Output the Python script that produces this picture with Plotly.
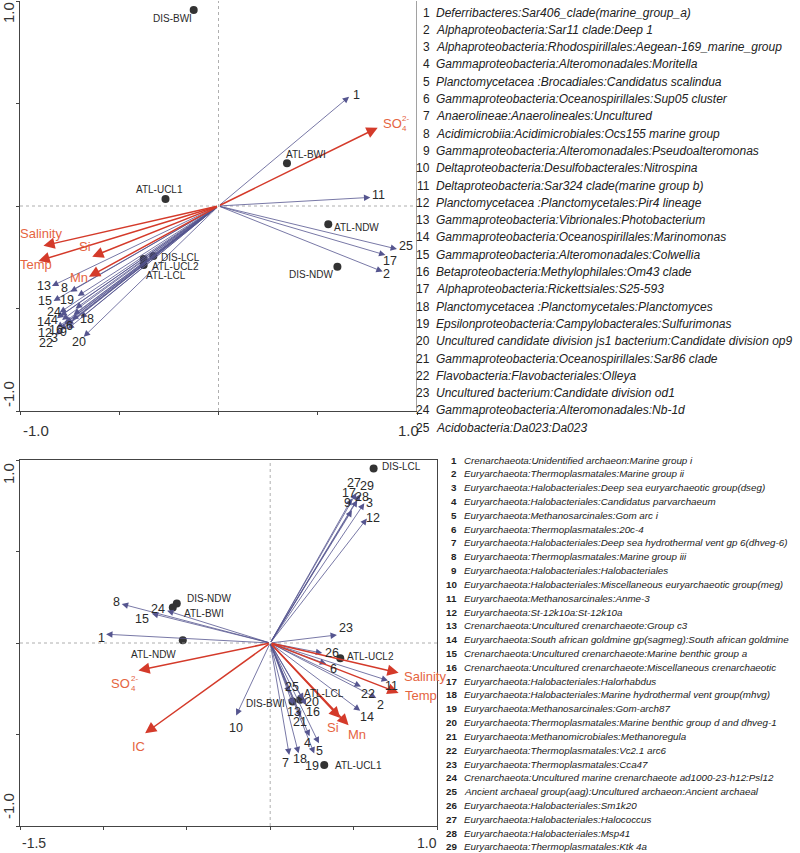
import plotly.graph_objects as go

# ---------------- DATA ----------------
# Top panel (Bacteria)
top_species_ids = list(range(1, 26))
top_species_x = [0.658, 0.827, -0.797, -0.788, -0.77, -0.738, -0.80, -0.746, -0.763, -0.72,
                 0.765, -0.814, -0.839, -0.814, -0.831, -0.78, 0.841, -0.695, -0.709, -0.679,
                 -0.76, -0.822, -0.73, -0.797, 0.899]
top_species_y = [0.533, -0.32, -0.605, -0.556, -0.57, -0.556, -0.52, -0.418, -0.58, -0.50,
                 0.042, -0.595, -0.39, -0.547, -0.463, -0.58, -0.239, -0.547, -0.439, -0.638,
                 -0.60, -0.629, -0.53, -0.537, -0.21]
top_species_shown = [True, True, True, True, False, True, False, True, True, False,
                     True, True, True, True, True, True, True, True, True, True,
                     False, True, False, True, True]

top_env_names = ["SO", "Salinity", "Temp", "Si", "Mn"]
top_env_x = [0.802, -0.882, -0.907, -0.636, -0.653]
top_env_y = [0.382, -0.194, -0.268, -0.247, -0.345]

top_sites = ["DIS-BWI", "ATL-BWI", "ATL-UCL1", "ATL-NDW", "DIS-NDW", "DIS-LCL", "ATL-UCL2", "ATL-LCL"]
top_sites_x = [-0.125, 0.345, -0.267, 0.553, 0.599, -0.328, -0.377, -0.377]
top_sites_y = [0.956, 0.208, 0.034, -0.089, -0.296, -0.244, -0.259, -0.288]

top_taxa = [
    "Deferribacteres:Sar406_clade(marine_group_a)",
    "Alphaproteobacteria:Sar11 clade:Deep 1",
    "Alphaproteobacteria:Rhodospirillales:Aegean-169_marine_group",
    "Gammaproteobacteria:Alteromonadales:Moritella",
    "Planctomycetacea :Brocadiales:Candidatus scalindua",
    "Gammaproteobacteria:Oceanospirillales:Sup05 cluster",
    "Anaerolineae:Anaerolineales:Uncultured",
    "Acidimicrobiia:Acidimicrobiales:Ocs155 marine group",
    "Gammaproteobacteria:Alteromonadales:Pseudoalteromonas",
    "Deltaproteobacteria:Desulfobacterales:Nitrospina",
    "Deltaproteobacteria:Sar324 clade(marine group b)",
    "Planctomycetacea :Planctomycetales:Pir4 lineage",
    "Gammaproteobacteria:Vibrionales:Photobacterium",
    "Gammaproteobacteria:Oceanospirillales:Marinomonas",
    "Gammaproteobacteria:Alteromonadales:Colwellia",
    "Betaproteobacteria:Methylophilales:Om43 clade",
    "Alphaproteobacteria:Rickettsiales:S25-593",
    "Planctomycetacea :Planctomycetales:Planctomyces",
    "Epsilonproteobacteria:Campylobacterales:Sulfurimonas",
    "Uncultured candidate division js1 bacterium:Candidate division op9",
    "Gammaproteobacteria:Oceanospirillales:Sar86 clade",
    "Flavobacteria:Flavobacteriales:Olleya",
    "Uncultured bacterium:Candidate division od1",
    "Gammaproteobacteria:Alteromonadales:Nb-1d",
    "Acidobacteria:Da023:Da023",
]

# Bottom panel (Archaea)
bot_species_ids = list(range(1, 30))
bot_species_x = [-0.984, 0.636, 0.564, 0.236, 0.292, 0.336, 0.114, -0.89, 0.49, -0.204,
                 0.706, 0.58, 0.136, 0.54, -0.71, 0.216, 0.49, 0.17, 0.264, 0.2,
                 0.184, 0.544, 0.40, -0.618, 0.116, 0.312, 0.516, 0.522, 0.54]
bot_species_y = [0.048, -0.30, 0.764, -0.51, -0.548, -0.115, -0.612, 0.213, 0.725, -0.396,
                 -0.205, 0.68, -0.337, -0.37, 0.161, -0.34, 0.79, -0.603, -0.604, -0.31,
                 -0.406, -0.238, 0.044, 0.176, -0.273, -0.055, 0.819, 0.78, 0.813]

bot_env_names = ["Salinity", "Temp", "Si", "Mn", "SO", "IC"]
bot_env_x = [0.77, 0.77, 0.42, 0.47, -0.79, -0.75]
bot_env_y = [-0.163, -0.273, -0.41, -0.45, -0.15, -0.493]

bot_sites = ["DIS-LCL", "DIS-NDW", "ATL-BWI", "ATL-NDW", "ATL-UCL2", "DIS-BWI", "ATL-LCL", "ATL-UCL1"]
bot_sites_x = [0.62, -0.56, -0.584, -0.524, 0.42, 0.134, 0.18, 0.324]
bot_sites_y = [0.954, 0.216, 0.194, 0.015, -0.084, -0.319, -0.31, -0.667]

bot_taxa = [
    "Crenarchaeota:Unidentified archaeon:Marine group i",
    "Euryarchaeota:Thermoplasmatales:Marine group ii",
    "Euryarchaeota:Halobacteriales:Deep sea euryarchaeotic group(dseg)",
    "Euryarchaeota:Halobacteriales:Candidatus parvarchaeum",
    "Euryarchaeota:Methanosarcinales:Gom arc i",
    "Euryarchaeota:Thermoplasmatales:20c-4",
    "Euryarchaeota:Halobacteriales:Deep sea hydrothermal vent gp 6(dhveg-6)",
    "Euryarchaeota:Thermoplasmatales:Marine group iii",
    "Euryarchaeota:Halobacteriales:Halobacteriales",
    "Euryarchaeota:Halobacteriales:Miscellaneous euryarchaeotic group(meg)",
    "Euryarchaeota:Methanosarcinales:Anme-3",
    "Euryarchaeota:St-12k10a:St-12k10a",
    "Crenarchaeota:Uncultured crenarchaeote:Group c3",
    "Euryarchaeota:South african goldmine gp(sagmeg):South african goldmine",
    "Crenarchaeota:Uncultured crenarchaeote:Marine benthic group a",
    "Crenarchaeota:Uncultured crenarchaeote:Miscellaneous crenarchaeotic",
    "Euryarchaeota:Halobacteriales:Halorhabdus",
    "Euryarchaeota:Halobacteriales:Marine hydrothermal vent group(mhvg)",
    "Euryarchaeota:Methanosarcinales:Gom-arch87",
    "Euryarchaeota:Thermoplasmatales:Marine benthic group d and dhveg-1",
    "Euryarchaeota:Methanomicrobiales:Methanoregula",
    "Euryarchaeota:Thermoplasmatales:Vc2.1 arc6",
    "Euryarchaeota:Thermoplasmatales:Cca47",
    "Crenarchaeota:Uncultured marine crenarchaeote ad1000-23-h12:Psl12",
    "Ancient archaeal group(aag):Uncultured archaeon:Ancient archaeal",
    "Euryarchaeota:Halobacteriales:Sm1k20",
    "Euryarchaeota:Halobacteriales:Halococcus",
    "Euryarchaeota:Halobacteriales:Msp41",
    "Euryarchaeota:Thermoplasmatales:Ktk 4a",
]

# ---------------- STYLE (label offsets in pixels: dx, dy-down) ----------------
top_species_off = [(7, -2), (4, 2), (-6, 8), (-8, 0), (0, 0), (-3, 6), (0, 0), (-6, -4), (-4, 7), (0, 0),
                   (8, -2), (-12, 5), (-8, 0), (-13, 4), (-9, 0), (-8, 5), (5, 6), (6, 1), (-11, 4), (-5, 5),
                   (0, 0), (-9, 8), (0, 0), (-6, -4), (9, -3)]
top_env_off = [("left", 3, -4), ("center", -2, -12), ("center", -2, 4), ("center", -7, -10), ("center", -10, 1)]
top_site_off = [("right", 0, 8), ("left", -3, -9), ("center", -6, -10), ("left", 4, 3),
                ("right", -2, 8), ("left", 6, 1), ("left", 6, 7), ("left", 0, 10)]

bot_species_off = [(-5, 4), (4, 7), (5, 0), (-2, 7), (1, 8), (7, 5), (-4, 8), (-5, -2), (-4, -7), (0, 13),
                   (4, 5), (6, -1), (1, 7), (7, 6), (-10, 5), (7, 7), (-3, -5), (1, 6), (-2, 12), (8, 2),
                   (-1, 5), (7, 7), (9, -7), (-9, -2), (2, -6), (10, 0), (-2, -10), (5, -3), (7, -8)]
bot_env_off = [("left", 3, 4), ("left", 4, 3), ("center", -7, 9), ("center", 8, 9), ("center", -18, 13), ("center", -7, 13)]
bot_site_off = [("left", 6, -2), ("left", 8, -5), ("left", 9, 6), ("right", -5, 14),
                ("left", 5, -2), ("right", -6, 2), ("left", 2, -6), ("left", 9, 0)]

W, H = 800, 853
SPEC_COL = "#55558f"
ENV_COL = "#d43a2a"
ENV_TXT = "#e5643f"
TXT = "#2a2a2a"
AX = "#444444"
FONT = "Arial, Liberation Sans, sans-serif"

def px_x(p):
    return p / W

def px_y(p):
    return 1 - p / H

fig = go.Figure()

# site points
fig.add_trace(go.Scatter(x=top_sites_x, y=top_sites_y, mode="markers", xaxis="x", yaxis="y",
                         marker=dict(size=8, color="#333333"), hoverinfo="skip", showlegend=False))
fig.add_trace(go.Scatter(x=bot_sites_x, y=bot_sites_y, mode="markers", xaxis="x2", yaxis="y2",
                         marker=dict(size=8, color="#333333"), hoverinfo="skip", showlegend=False))

anns = []

def arrow(x, y, xr, yr, color, width, size):
    anns.append(dict(x=x, y=y, ax=0, ay=0, xref=xr, yref=yr, axref=xr, ayref=yr,
                     showarrow=True, arrowhead=2, arrowsize=size, arrowwidth=width,
                     arrowcolor=color, text="", standoff=0, startstandoff=0))

def label(x, y, xr, yr, text, anchor, dx, dy, size, color):
    anns.append(dict(x=x, y=y, xref=xr, yref=yr, text=text, showarrow=False,
                     xanchor=anchor, yanchor="middle", xshift=dx, yshift=-dy,
                     font=dict(family=FONT, size=size, color=color)))

# zero lines (dotted)
shapes = [
    dict(type="line", xref="x", yref="y", x0=0, x1=0, y0=-1, y1=1, line=dict(color="#9a9a9a", width=0.8, dash="dot")),
    dict(type="line", xref="x", yref="y", x0=-1, x1=1, y0=0, y1=0, line=dict(color="#9a9a9a", width=0.8, dash="dot")),
    dict(type="line", xref="x2", yref="y2", x0=0, x1=0, y0=-1, y1=1, line=dict(color="#9a9a9a", width=0.8, dash="dot")),
    dict(type="line", xref="x2", yref="y2", x0=-1.5, x1=1.0, y0=0, y1=0, line=dict(color="#9a9a9a", width=0.8, dash="dot")),
    dict(type="line", xref="x", yref="y", x0=1, x1=1, y0=-1, y1=1.0, line=dict(color=AX, width=1)),
]

# ---- top panel arrows / labels ----
for i, (x, y) in enumerate(zip(top_species_x, top_species_y)):
    arrow(x, y, "x", "y", SPEC_COL, 0.8, 1.6)
for x, y in zip(top_env_x, top_env_y):
    arrow(x, y, "x", "y", ENV_COL, 1.5, 1.5)
for i, (x, y) in enumerate(zip(top_species_x, top_species_y)):
    if top_species_shown[i]:
        dx, dy = top_species_off[i]
        label(x, y, "x", "y", str(top_species_ids[i]), "center", dx, dy, 12.5, TXT)
for i, (x, y) in enumerate(zip(top_env_x, top_env_y)):
    a, dx, dy = top_env_off[i]
    label(x, y, "x", "y", top_env_names[i], a, dx, dy, 13, ENV_TXT)
    if top_env_names[i] == "SO":
        label(x, y, "x", "y", "2-", "left", dx + 19, dy - 5, 8, ENV_TXT)
        label(x, y, "x", "y", "4", "left", dx + 19, dy + 5, 8, ENV_TXT)
for i, (x, y) in enumerate(zip(top_sites_x, top_sites_y)):
    a, dx, dy = top_site_off[i]
    label(x, y, "x", "y", top_sites[i], a, dx, dy, 10, TXT)

# ---- bottom panel arrows / labels ----
for x, y in zip(bot_species_x, bot_species_y):
    arrow(x, y, "x2", "y2", SPEC_COL, 0.8, 1.6)
for x, y in zip(bot_env_x, bot_env_y):
    arrow(x, y, "x2", "y2", ENV_COL, 1.5, 1.5)
for i, (x, y) in enumerate(zip(bot_species_x, bot_species_y)):
    dx, dy = bot_species_off[i]
    label(x, y, "x2", "y2", str(bot_species_ids[i]), "center", dx, dy, 12.5, TXT)
for i, (x, y) in enumerate(zip(bot_env_x, bot_env_y)):
    a, dx, dy = bot_env_off[i]
    label(x, y, "x2", "y2", bot_env_names[i], a, dx, dy, 13, ENV_TXT)
    if bot_env_names[i] == "SO":
        label(x, y, "x2", "y2", "2-", "left", dx + 9, dy - 5, 8, ENV_TXT)
        label(x, y, "x2", "y2", "4", "left", dx + 9, dy + 5, 8, ENV_TXT)
for i, (x, y) in enumerate(zip(bot_sites_x, bot_sites_y)):
    a, dx, dy = bot_site_off[i]
    label(x, y, "x2", "y2", bot_sites[i], a, dx, dy, 10, TXT)

# ---- tick labels (placed inward like the original) ----
def paper_text(px, py, text, size=15, angle=0):
    anns.append(dict(x=px_x(px), y=px_y(py), xref="paper", yref="paper", text=text, showarrow=False,
                     xanchor="center", yanchor="middle", textangle=angle,
                     font=dict(family=FONT, size=size, color="#333333")))

paper_text(8, 13, "1.0", angle=-90)
paper_text(8, 394, "-1.0", angle=-90)
paper_text(36, 431, "-1.0")
paper_text(408, 431, "1.0")
paper_text(8, 474, "1.0", angle=-90)
paper_text(8, 806, "-1.0", angle=-90)
paper_text(34, 843, "-1.5", size=14)
paper_text(427, 843, "1.0", size=14)

# ---- legends ----
for i, name in enumerate(top_taxa):
    py = 12.5 + i * 17.3
    anns.append(dict(x=px_x(432), y=px_y(py), xref="paper", yref="paper", text=str(i + 1),
                     showarrow=False, xanchor="right", yanchor="middle",
                     font=dict(family=FONT, size=12, color="#222222")))
    anns.append(dict(x=px_x(434), y=px_y(py), xref="paper", yref="paper", text="<i>" + name + "</i>",
                     showarrow=False, xanchor="left", yanchor="middle",
                     font=dict(family=FONT, size=12, color="#222222")))
for i, name in enumerate(bot_taxa):
    py = 460 + i * 13.82
    anns.append(dict(x=px_x(459), y=px_y(py), xref="paper", yref="paper", text="<b>" + str(i + 1) + "</b>",
                     showarrow=False, xanchor="right", yanchor="middle",
                     font=dict(family=FONT, size=9.8, color="#222222")))
    anns.append(dict(x=px_x(462), y=px_y(py), xref="paper", yref="paper", text="<i>" + name + "</i>",
                     showarrow=False, xanchor="left", yanchor="middle",
                     font=dict(family=FONT, size=9.8, color="#222222")))

axis_common = dict(showgrid=False, zeroline=False, showticklabels=False, ticks="outside",
                   ticklen=3, tickcolor=AX, linecolor=AX, linewidth=1.2, showline=True, fixedrange=True)

fig.update_layout(
    width=W, height=H, autosize=False,
    margin=dict(l=0, r=0, t=0, b=0),
    paper_bgcolor="white", plot_bgcolor="white",
    showlegend=False,
    xaxis=dict(domain=[px_x(20), px_x(417)], range=[-1, 1], anchor="y",
               tickvals=[-1, -0.5, 0, 0.5, 1], **axis_common),
    yaxis=dict(domain=[px_y(411), px_y(1)], range=[-1, 1], anchor="x",
               tickvals=[-1, -0.5, 0, 0.5, 1], **axis_common),
    xaxis2=dict(domain=[px_x(20), px_x(437)], range=[-1.5, 1.0], anchor="y2", mirror=True,
                tickvals=[-1.5, -1, -0.5, 0, 0.5, 1.0], **axis_common),
    yaxis2=dict(domain=[px_y(826), px_y(460)], range=[-1, 1], anchor="x2", mirror=True,
                tickvals=[-1, -0.5, 0, 0.5, 1], **axis_common),
    annotations=anns,
    shapes=shapes,
)

fig.write_html("out.html", config={"displayModeBar": False},
               post_script="document.body.style.margin='0';document.body.style.overflow='hidden';")
